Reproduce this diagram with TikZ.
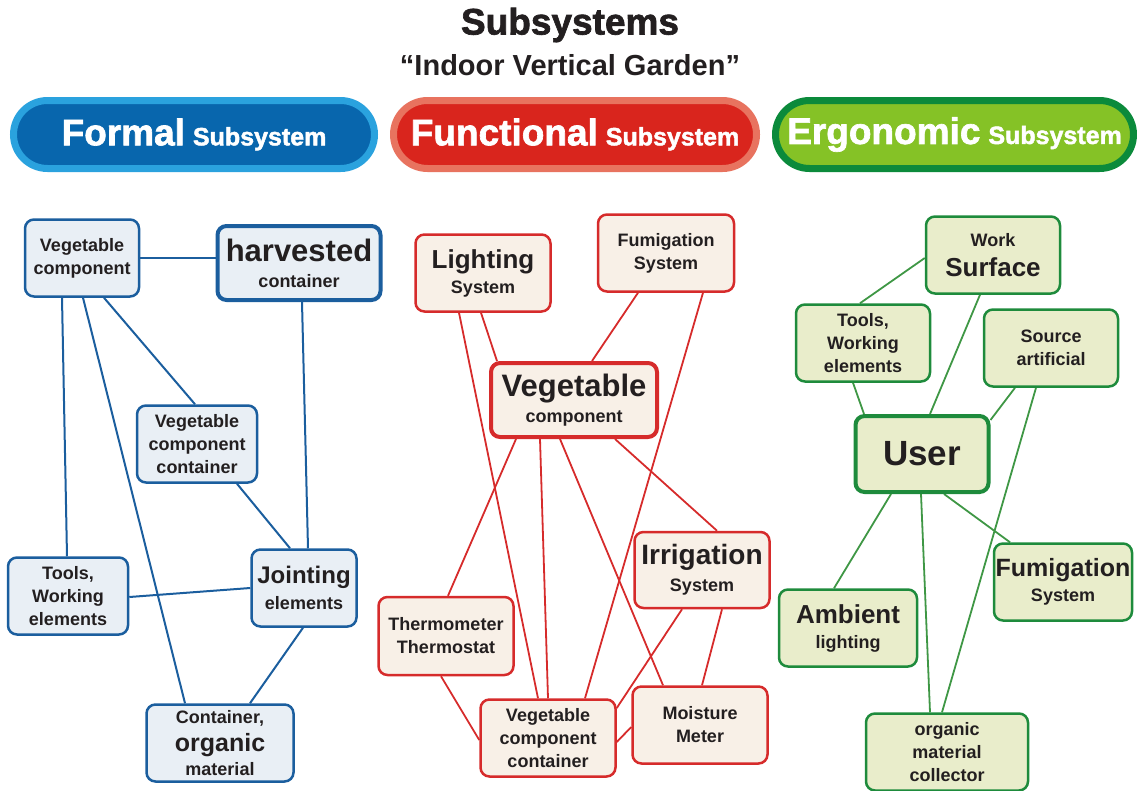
\documentclass[tikz,border=0pt]{standalone}
\usepackage{fontspec}
\setmainfont{Liberation Sans}
\newfontfamily\heavyfont{Liberation Sans}[BoldFeatures={FakeBold=1.8}]
\usetikzlibrary{backgrounds}
\definecolor{txt}{HTML}{231F20}
\definecolor{bline}{HTML}{1B5E9E}
\definecolor{bfill}{HTML}{E9EFF5}
\definecolor{rline}{HTML}{D62B2B}
\definecolor{rfill}{HTML}{F8F0E7}
\definecolor{gline}{HTML}{1E8B3C}
\definecolor{gedge}{HTML}{3F9745}
\definecolor{gfill}{HTML}{E9EDCB}
\definecolor{pbout}{HTML}{2AA2DE}
\definecolor{pbin}{HTML}{0866AD}
\definecolor{prout}{HTML}{E8735F}
\definecolor{prin}{HTML}{D9251D}
\definecolor{pgout}{HTML}{0B8A3B}
\definecolor{pgin}{HTML}{85C226}
\tikzset{
  box/.style={rounded corners=9pt, inner sep=0pt, align=center, text=txt,
    font=\bfseries\fontsize{18}{23}\selectfont},
  bbox/.style={box, draw=bline, fill=bfill, line width=2.5pt},
  rbox/.style={box, draw=rline, fill=rfill, line width=2.5pt},
  gbox/.style={box, draw=gline, fill=gfill, line width=2.5pt},
  thick box/.style={line width=4pt},
  bedge/.style={draw=bline, line width=2pt},
  redge/.style={draw=rline, line width=1.8pt},
  gedgest/.style={draw=gedge, line width=1.8pt},
  pill/.style={rounded corners=34pt, line width=7pt, minimum height=68pt,
    inner sep=0pt, text=white, font=\heavyfont\bfseries},
}
\begin{document}
\begin{tikzpicture}[x=1pt,y=-1pt]
\useasboundingbox (0,0) rectangle (1137,790);

% titles
\node[text=txt, font=\heavyfont\bfseries\fontsize{37}{40}\selectfont] (title) at (570,25) {Subsystems};
\node[text=txt, font=\bfseries\fontsize{29}{32}\selectfont] (subtitle) at (570,65) {“Indoor Vertical Garden”};

% header pills
\node[pill, draw=pbout, fill=pbin, minimum width=361pt] (formal) at (194,134.5)
  {{\fontsize{37}{40}\selectfont Formal}\hspace{8pt}{\fontsize{25}{28}\selectfont Subsystem}};
\node[pill, draw=prout, fill=prin, minimum width=363pt] (functional) at (575,134.5)
  {{\fontsize{37}{40}\selectfont Functional}\hspace{8pt}{\fontsize{25}{28}\selectfont Subsystem}};
\node[pill, draw=pgout, fill=pgin, minimum width=358pt] (ergonomic) at (954.5,134.5)
  {{\fontsize{37}{40}\selectfont Ergonomic}\hspace{8pt}{\fontsize{25}{28}\selectfont Subsystem}};

% ---------- Formal (blue) ----------
\node[bbox, minimum width=114pt, minimum height=77pt] (B1) at (82,258) {Vegetable\\component};
\node[bbox, thick box, minimum width=163pt, minimum height=74pt] (B2) at (299,263)
  {\fontsize{31}{31}\selectfont harvested\\[3pt]\fontsize{18}{23}\selectfont container};
\node[bbox, minimum width=120pt, minimum height=77pt] (B3) at (197,444) {Vegetable\\component\\container};
\node[bbox, minimum width=120pt, minimum height=77pt] (B4) at (68,596) {Tools,\\Working\\elements};
\node[bbox, minimum width=105pt, minimum height=77pt] (B5) at (304,588)
  {\fontsize{24}{24}\selectfont Jointing\\[3pt]\fontsize{18}{23}\selectfont elements};
\node[bbox, minimum width=147pt, minimum height=77pt] (B6) at (220,743)
  {Container,\\[5pt]\fontsize{25}{25}\selectfont organic\\[1pt]\fontsize{18}{23}\selectfont material};

% ---------- Functional (red) ----------
\node[rbox, minimum width=135pt, minimum height=77pt] (R1) at (483,273)
  {\fontsize{26}{26}\selectfont Lighting\\[2pt]\fontsize{18}{23}\selectfont System};
\node[rbox, minimum width=136pt, minimum height=77pt] (R2) at (666,253) {Fumigation\\System};
\node[rbox, thick box, minimum width=166pt, minimum height=74pt] (R3) at (574,400)
  {\fontsize{31}{31}\selectfont Vegetable\\[3pt]\fontsize{18}{23}\selectfont component};
\node[rbox, minimum width=135pt, minimum height=76pt] (R4) at (702,570)
  {\fontsize{28}{28}\selectfont Irrigation\\[4pt]\fontsize{18}{23}\selectfont System};
\node[rbox, minimum width=135pt, minimum height=78pt] (R5) at (446,636) {Thermometer\\Thermostat};
\node[rbox, minimum width=135pt, minimum height=77pt] (R6) at (548,738) {Vegetable\\component\\container};
\node[rbox, minimum width=135pt, minimum height=77pt] (R7) at (700,725) {Moisture\\Meter};

% ---------- Ergonomic (green) ----------
\node[gbox, minimum width=134pt, minimum height=77pt] (G1) at (993,255)
  {Work\\[7pt]\fontsize{26}{26}\selectfont Surface};
\node[gbox, minimum width=134pt, minimum height=77pt] (G2) at (863,343) {Tools,\\Working\\elements};
\node[gbox, minimum width=134pt, minimum height=77pt] (G3) at (1051,348) {Source\\artificial};
\node[gbox, thick box, minimum width=133pt, minimum height=76pt] (G4) at (922,454)
  {\fontsize{35}{35}\selectfont User};
\node[gbox, minimum width=138pt, minimum height=77pt] (G5) at (848,628)
  {\fontsize{26}{26}\selectfont Ambient\\[2pt]\fontsize{18}{23}\selectfont lighting};
\node[gbox, minimum width=138pt, minimum height=77pt] (G6) at (1063,582)
  {\fontsize{25}{25}\selectfont Fumigation\\[2pt]\fontsize{18}{23}\selectfont System};
\node[gbox, minimum width=162pt, minimum height=77pt] (G7) at (947,752) {organic\\material\\collector};

\begin{scope}[on background layer]
% blue edges
\draw[bedge] (B1.east) -- (B1.east -| B2.west);
\draw[bedge] ([xshift=-20pt]B1.south) -- ([xshift=-1pt]B4.north);
\draw[bedge] ([xshift=1pt]B1.south) -- ([xshift=-35pt]B6.north);
\draw[bedge] ([xshift=22pt]B1.south) -- ([xshift=-2pt]B3.north);
\draw[bedge] ([xshift=3pt]B2.south) -- ([xshift=4pt]B5.north);
\draw[bedge] ([xshift=40pt]B3.south) -- ([xshift=-14pt]B5.north);
\draw[bedge] ([yshift=-1pt]B4.east) -- (B5.west);
\draw[bedge] ([xshift=-1pt]B5.south) -- ([xshift=30pt]B6.north);
% red edges
\draw[redge] ([xshift=-2pt]R1.south) -- ([xshift=-77pt]R3.north);
\draw[redge] ([xshift=-24pt]R1.south) -- ([xshift=-10pt]R6.north);
\draw[redge] ([xshift=-28pt]R2.south) -- ([xshift=18pt]R3.north);
\draw[redge] ([xshift=37pt]R2.south) -- ([xshift=37pt]R6.north);
\draw[redge] ([xshift=-58pt]R3.south) -- ([xshift=2pt]R5.north);
\draw[redge] ([xshift=-34pt]R3.south) -- (R6.north);
\draw[redge] ([xshift=-14pt]R3.south) -- ([xshift=-37pt]R7.north);
\draw[redge] ([xshift=41pt]R3.south) -- ([xshift=15pt]R4.north);
\draw[redge] ([xshift=-20pt]R4.south) -- ([yshift=30pt]R6.east);
\draw[redge] ([xshift=20pt]R4.south) -- ([xshift=2pt]R7.north);
\draw[redge] ([xshift=-5pt]R5.south) -- ([yshift=-2pt]R6.west);
\draw[redge] ([yshift=-4pt]R6.east) -- ([yshift=-2pt]R7.west);
% green edges
\draw[gedgest] ([yshift=-3pt]G1.west) -- ([xshift=-3pt]G2.north);
\draw[gedgest] ([xshift=-13pt]G1.south) -- ([xshift=8pt]G4.north);
\draw[gedgest] ([xshift=-10pt]G2.south) -- ([xshift=-58pt]G4.north);
\draw[gedgest] ([xshift=-36pt]G3.south) -- ([yshift=34pt]G4.east);
\draw[gedgest] ([xshift=-15pt]G3.south) -- ([xshift=-5pt]G7.north);
\draw[gedgest] ([xshift=-31pt]G4.south) -- ([xshift=-14pt]G5.north);
\draw[gedgest] ([xshift=-1pt]G4.south) -- ([xshift=-17pt]G7.north);
\draw[gedgest] ([xshift=22pt]G4.south) -- ([xshift=-53pt]G6.north);
\end{scope}
\end{tikzpicture}
\end{document}
